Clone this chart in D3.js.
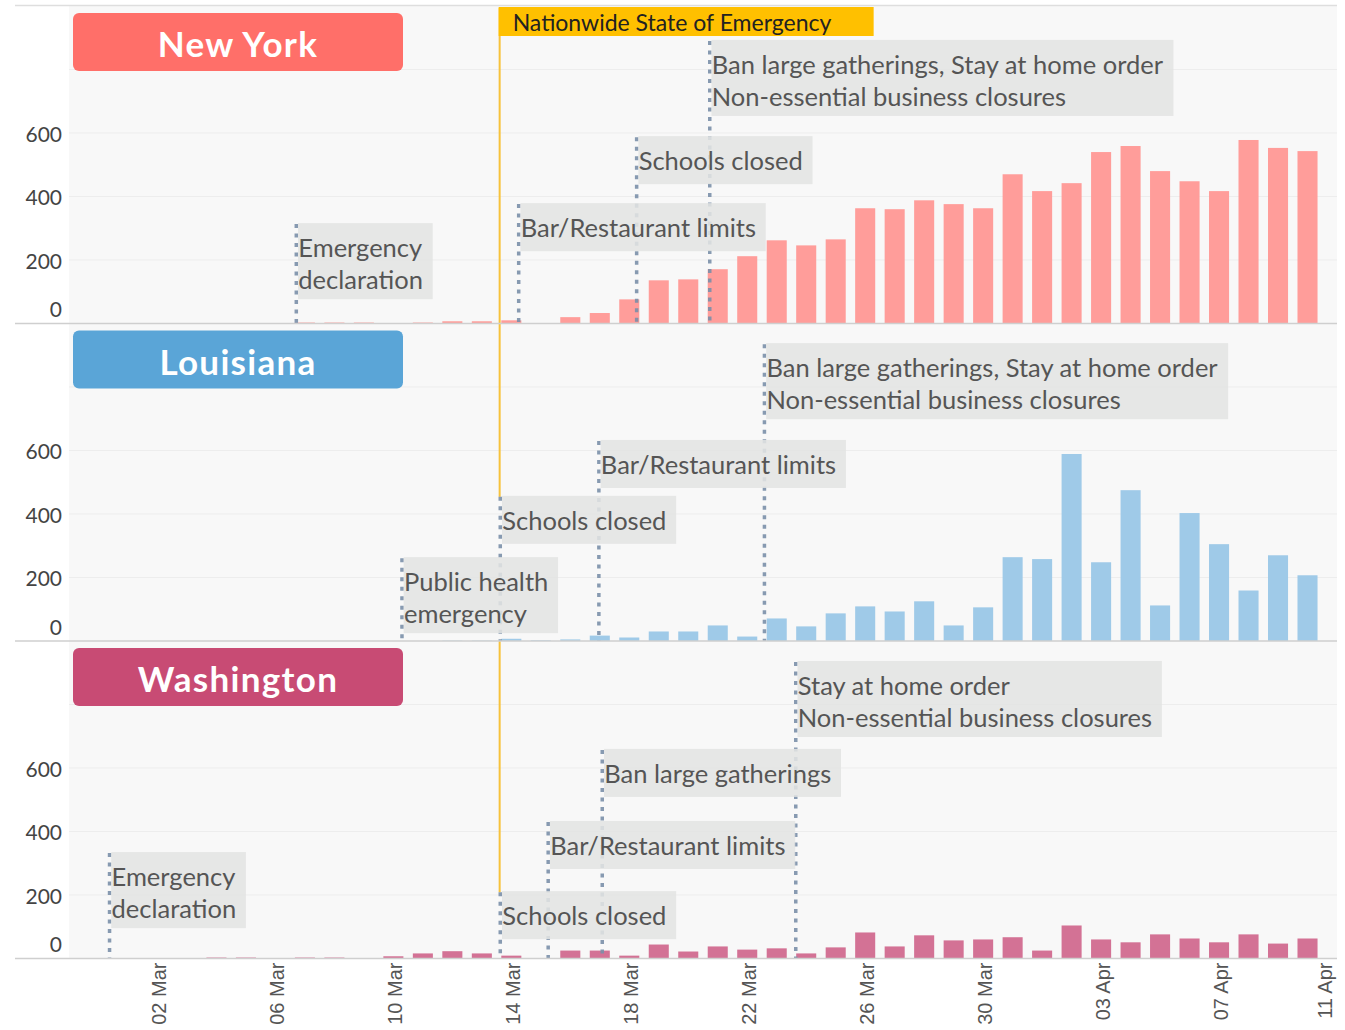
<!DOCTYPE html>
<html><head><meta charset="utf-8">
<script src="https://cdn.jsdelivr.net/npm/d3@7"></script>
<style>body{margin:0;background:#fff;} svg{display:block;}</style>
</head><body><svg id="chart" width="1345" height="1030"></svg>
<script>
// ---------- DATA ----------
const dates = [
  "2020-02-28","2020-02-29",
  "2020-03-01","2020-03-02","2020-03-03","2020-03-04","2020-03-05","2020-03-06","2020-03-07","2020-03-08","2020-03-09","2020-03-10",
  "2020-03-11","2020-03-12","2020-03-13","2020-03-14","2020-03-15","2020-03-16","2020-03-17","2020-03-18","2020-03-19","2020-03-20",
  "2020-03-21","2020-03-22","2020-03-23","2020-03-24","2020-03-25","2020-03-26","2020-03-27","2020-03-28","2020-03-29","2020-03-30","2020-03-31",
  "2020-04-01","2020-04-02","2020-04-03","2020-04-04","2020-04-05","2020-04-06","2020-04-07","2020-04-08","2020-04-09","2020-04-10"
];
const newYork = [0,0, 0,0,0,0,0,0,3,3,3,0, 3,7,7,10,0,20,33,76,136,139, 171,212,262,246,265,363,360,388,376,363,470, 417,442,540,559,480,448,417,578,553,543];
const louisiana = [0,0, 0,0,0,0,0,0,0,0,0,0, 0,1,1,7,2,5,17,11,30,30, 49,14,71,46,87,109,93,125,49,106,264, 258,589,248,475,112,403,305,159,270,207];
const washington = [0,0, 0,0,0,3,3,0,3,3,0,7, 16,23,16,9,0,25,25,9,44,22, 38,28,32,16,35,82,38,73,57,60,67, 25,104,60,51,76,63,51,76,47,63];

const stateNames = ["New York", "Louisiana", "Washington"];
const yTicks = [0, 200, 400, 600];
const gridTicks = [200, 400, 600, 800];
const tickDates = ["2020-03-02","2020-03-06","2020-03-10","2020-03-14","2020-03-18","2020-03-22","2020-03-26","2020-03-30","2020-04-03","2020-04-07","2020-04-11"];

const nationwide = { date: "2020-03-13T14:30", label: "Nationwide State of Emergency" };

// event: date (time of marker), level (value where marker starts), text lines
const nyEvents = [
  { date: "2020-03-06T17:00", level: 313, lines: ["Emergency", "declaration"] },
  { date: "2020-03-14T06:00", level: 376, lines: ["Bar/Restaurant limits"] },
  { date: "2020-03-18T06:00", level: 587, lines: ["Schools closed"] },
  { date: "2020-03-20T17:30", level: 890, lines: ["Ban large gatherings, Stay at home order", "Non-essential business closures"] }
];
const laEvents = [
  { date: "2020-03-10T07:00", level: 261, lines: ["Public health", "emergency"] },
  { date: "2020-03-13T15:00", level: 454, lines: ["Schools closed"] },
  { date: "2020-03-16T23:15", level: 630, lines: ["Bar/Restaurant limits"] },
  { date: "2020-03-22T14:00", level: 935, lines: ["Ban large gatherings, Stay at home order", "Non-essential business closures"] }
];
const waEvents = [
  { date: "2020-02-29T09:00", level: 332, lines: ["Emergency", "declaration"] },
  { date: "2020-03-13T15:00", level: 209, lines: ["Schools closed"] },
  { date: "2020-03-15T06:00", level: 430, lines: ["Bar/Restaurant limits"] },
  { date: "2020-03-17T02:00", level: 657, lines: ["Ban large gatherings"] },
  { date: "2020-03-23T15:30", level: 934, lines: ["Stay at home order", "Non-essential business closures"] }
];

// ---------- STYLE / LAYOUT ----------
const barColors = ["#ff9d9a", "#9fcae8", "#d37295"];
const titleColors = ["#ff6f69", "#5aa5d7", "#c84b74"];
const parseDay = d3.utcParse("%Y-%m-%d");
const parseTime = d3.utcParse("%Y-%m-%dT%H:%M");
const fmt = d3.utcFormat("%d %b");

const left = 69, right = 1337, top0 = 6, panelH = 317.5;
const svg = d3.select("#chart");

const x = d3.scaleUtc()
  .domain([parseDay("2020-02-28"), parseDay("2020-04-11")])
  .range([left, right]);
const dayW = x(parseDay("2020-03-02")) - x(parseDay("2020-03-01"));
const bw = dayW * 0.68;

const series = [newYork, louisiana, washington];
const events = [nyEvents, laEvents, waEvents];
const dayObjs = dates.map(parseDay);

// background
svg.append("rect").attr("x", left).attr("y", top0).attr("width", right - left).attr("height", panelH * 3)
  .attr("fill", "#f8f8f8");
svg.append("line").attr("x1", 15).attr("x2", right).attr("y1", 5.5).attr("y2", 5.5)
  .attr("stroke", "#dedede").attr("stroke-width", 1.5);

const FONT = "Lato, 'Open Sans', sans-serif";

const panels = stateNames.map((name, i) => {
  const pTop = top0 + i * panelH;
  const y = d3.scaleLinear().domain([0, 1000]).range([pTop + panelH, pTop]);
  return { name, i, pTop, y };
});

// gridlines
panels.forEach(p => {
  svg.append("g").selectAll("line").data(gridTicks).join("line")
    .attr("x1", left).attr("x2", right)
    .attr("y1", d => p.y(d)).attr("y2", d => p.y(d))
    .attr("stroke", "#ededed").attr("stroke-width", 1);
});

// bars
panels.forEach(p => {
  const data = dayObjs.map((d, k) => ({ d, v: series[p.i][k] })).filter(o => o.v > 0);
  svg.append("g").selectAll("rect").data(data).join("rect")
    .attr("x", o => x(o.d) - bw / 2)
    .attr("width", bw)
    .attr("y", o => p.y(o.v))
    .attr("height", o => p.y(0) - p.y(o.v))
    .attr("fill", barColors[p.i]);
});

// nationwide line per panel (hidden under a coincident event marker)
const nx = x(parseTime(nationwide.date));
panels.forEach(p => {
  let y1 = p.pTop + (p.i === 0 ? 2 : 0);
  let y2 = p.y(0);
  events[p.i].forEach(e => {
    if (Math.abs(x(parseTime(e.date)) - nx) < 3) y2 = Math.min(y2, p.y(e.level));
  });
  svg.append("line").attr("x1", nx).attr("x2", nx).attr("y1", y1).attr("y2", y2)
    .attr("stroke", "#f7c23b").attr("stroke-width", 2);
});

// event markers
const lineH = 32;
panels.forEach(p => {
  const evs = events[p.i];
  const g = svg.append("g");
  g.selectAll("line").data(evs).join("line")
    .attr("x1", e => x(parseTime(e.date))).attr("x2", e => x(parseTime(e.date)))
    .attr("y1", e => p.y(e.level)).attr("y2", p.y(0))
    .attr("stroke", "#7a8fa8").attr("stroke-opacity", 0.9)
    .attr("stroke-width", 3.5).attr("stroke-dasharray", "4,5.5");
  evs.forEach(e => {
    const ex = x(parseTime(e.date));
    const ey = p.y(e.level);
    const box = g.append("rect").attr("fill", "#e2e4e3").attr("fill-opacity", 0.88);
    const t = g.append("text").attr("font-family", FONT).attr("font-size", 25.5)
      .attr("fill", "#555");
    e.lines.forEach((ln, k) => {
      t.append("tspan").attr("x", ex + 2).attr("y", ey + 23 + k * lineH)
        .attr("dominant-baseline", "central").text(ln);
    });
    const w = t.node().getBBox().width;
    box.attr("x", ex + 1.75).attr("y", ey - 1)
      .attr("width", w + 10)
      .attr("height", 48 + (e.lines.length - 1) * 28);
  });
});

// title boxes
panels.forEach(p => {
  svg.append("rect").attr("x", 73).attr("y", p.pTop + 7).attr("width", 330).attr("height", 58)
    .attr("rx", 6).attr("fill", titleColors[p.i]);
  svg.append("text").attr("x", 238).attr("y", p.pTop + 37)
    .attr("text-anchor", "middle").attr("dominant-baseline", "central")
    .attr("font-family", FONT).attr("font-weight", 700).attr("font-size", 35)
    .attr("letter-spacing", 1.3)
    .attr("fill", "#fff").text(p.name);
});

// y labels
panels.forEach(p => {
  svg.append("g").selectAll("text").data(yTicks).join("text")
    .attr("x", 62).attr("y", d => p.y(d) - (d === 0 ? 15 : 0))
    .attr("text-anchor", "end").attr("dominant-baseline", "central")
    .attr("font-family", FONT).attr("font-size", 21).attr("fill", "#444")
    .text(d => d);
});

// separators / baselines
panels.forEach(p => {
  svg.append("line").attr("x1", 15).attr("x2", right).attr("y1", p.y(0)).attr("y2", p.y(0))
    .attr("stroke", "#cfcfcf").attr("stroke-width", 1.5);
});

// nationwide label
svg.append("rect").attr("x", nx - 1).attr("y", 7).attr("width", 375).attr("height", 29)
  .attr("fill", "#ffc000");
svg.append("text").attr("x", nx + 13).attr("y", 22)
  .attr("dominant-baseline", "central").attr("font-family", FONT).attr("font-size", 23)
  .attr("fill", "#222").text(nationwide.label);

// x axis labels
const baseY = top0 + panelH * 3;
svg.append("g").selectAll("text").data(tickDates.map(parseDay)).join("text")
  .attr("transform", d => `translate(${Math.min(x(d) + 1.5, 1325)},${baseY + 4}) rotate(-90)`)
  .attr("text-anchor", "end").attr("dominant-baseline", "central")
  .attr("font-family", "'Liberation Sans', Arial, sans-serif").attr("font-size", 20)
  .attr("fill", "#555").text(d => fmt(d));
</script></body></html>
